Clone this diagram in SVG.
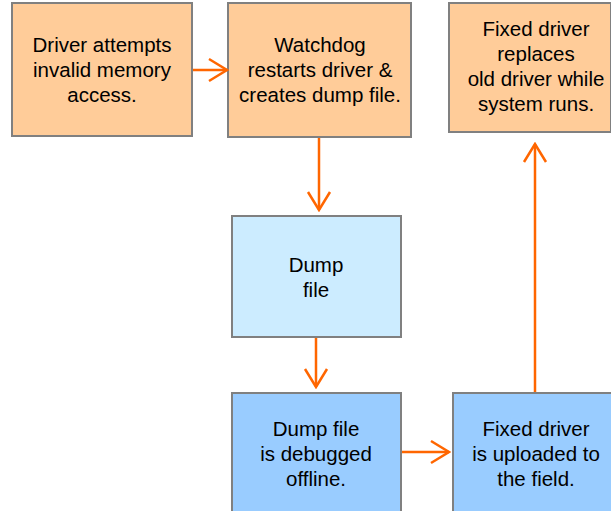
<svg xmlns="http://www.w3.org/2000/svg" width="611" height="511" viewBox="0 0 611 511">
  <style>
    .box { stroke: #808080; stroke-width: 2; }
    .orange { fill: #FFCC99; }
    .pale { fill: #CCECFF; }
    .blue { fill: #99CCFF; }
    text { font-family: "Liberation Sans", Arial, sans-serif; font-size: 20.5px; fill: #000; text-anchor: middle; }
    .conn { stroke: #FF6600; stroke-width: 2.5; fill: none; }
  </style>
  <defs>
    <marker id="arrow" viewBox="0 0 22 26" refX="20" refY="13" markerWidth="22" markerHeight="26" markerUnits="userSpaceOnUse" orient="auto">
      <path d="M2 2 L20 13 L2 24" fill="none" stroke="#FF6600" stroke-width="2.5"/>
    </marker>
  </defs>
  <rect width="611" height="511" fill="#ffffff"/>

  <g id="n-attempt">
    <rect class="box orange" x="12" y="3" width="180" height="133"/>
    <text x="102" y="52">Driver attempts</text>
    <text x="102" y="77">invalid memory</text>
    <text x="102" y="102">access.</text>
  </g>

  <g id="n-watchdog">
    <rect class="box orange" x="228" y="3" width="183" height="134"/>
    <text x="320" y="52">Watchdog</text>
    <text x="320" y="77">restarts driver &amp;</text>
    <text x="320" y="102">creates dump file.</text>
  </g>

  <g id="n-replace">
    <rect class="box orange" x="449" y="3" width="162" height="129"/>
    <text x="536" y="36">Fixed driver</text>
    <text x="536" y="61">replaces</text>
    <text x="536" y="86">old driver while</text>
    <text x="536" y="111">system runs.</text>
  </g>

  <g id="n-dump">
    <rect class="box pale" x="232" y="216" width="169" height="121"/>
    <text x="316" y="272">Dump</text>
    <text x="316" y="297">file</text>
  </g>

  <g id="n-debug">
    <rect class="box blue" x="232" y="393" width="169" height="125"/>
    <text x="316" y="436">Dump file</text>
    <text x="316" y="461">is debugged</text>
    <text x="316" y="486">offline.</text>
  </g>

  <g id="n-upload">
    <rect class="box blue" x="453" y="393" width="165" height="125"/>
    <text x="536" y="436">Fixed driver</text>
    <text x="536" y="461">is uploaded to</text>
    <text x="536" y="486">the field.</text>
  </g>

  <g id="connectors">
    <line class="conn" x1="193" y1="70" x2="227" y2="70" marker-end="url(#arrow)"/>
    <line class="conn" x1="319" y1="138" x2="319" y2="210" marker-end="url(#arrow)"/>
    <line class="conn" x1="316" y1="338" x2="316" y2="387" marker-end="url(#arrow)"/>
    <line class="conn" x1="402" y1="452" x2="449" y2="452" marker-end="url(#arrow)"/>
    <line class="conn" x1="535" y1="392" x2="535" y2="144" marker-end="url(#arrow)"/>
  </g>
</svg>
